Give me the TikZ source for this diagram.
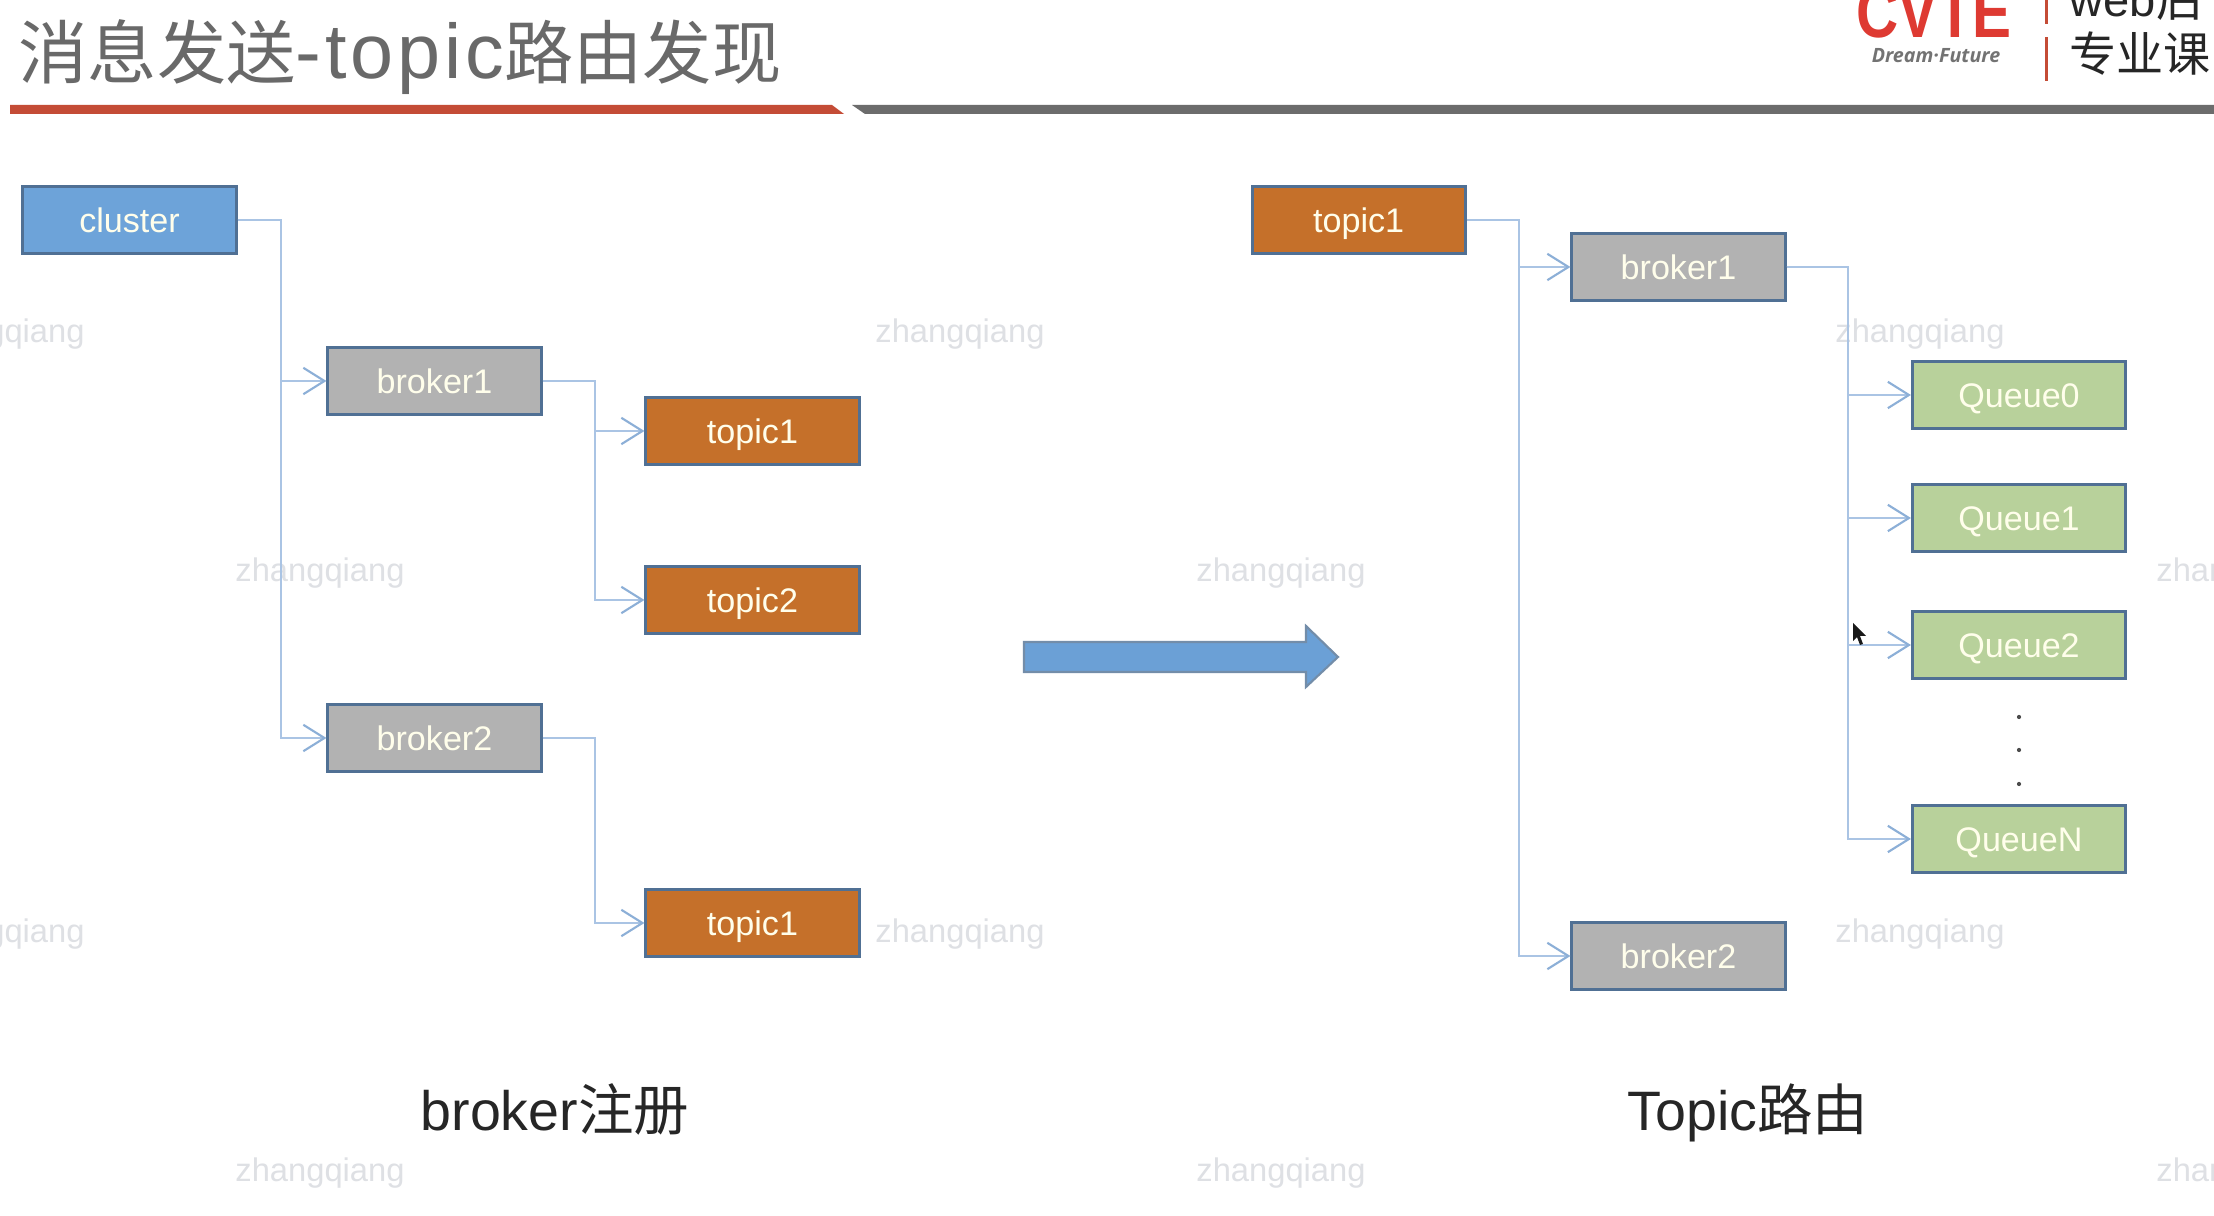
\documentclass[tikz,border=0pt]{standalone}
\usepackage{fontspec}
\setmainfont{Liberation Sans}
\newfontfamily\cjk{Noto Sans CJK SC}
\newfontfamily\logofont{Open Sans}
\newfontfamily\titlefont[LetterSpace=5]{Liberation Sans}
\usetikzlibrary{arrows.meta}
\definecolor{clusterblue}{RGB}{109, 163, 217}
\definecolor{arrowblue}{RGB}{107, 160, 214}
\definecolor{edgeblue}{RGB}{80, 112, 148}
\definecolor{topicorange}{RGB}{197, 112, 42}
\definecolor{brokergray}{RGB}{178, 178, 178}
\definecolor{queuegreen}{RGB}{184, 209, 155}
\definecolor{linkblue}{RGB}{170, 196, 228}
\definecolor{tipblue}{RGB}{140, 175, 215}
\definecolor{titlegray}{RGB}{105, 105, 105}
\definecolor{barred}{RGB}{196, 76, 54}
\definecolor{bargray}{RGB}{108, 108, 108}
\definecolor{logored}{RGB}{222, 58, 50}
\definecolor{wmgray}{RGB}{222, 224, 228}
\tikzset{
    box/.style={draw=edgeblue, line width=0.85pt, minimum width=2.13cm, minimum height=0.67cm,
        inner sep=0pt, text height=7pt, text depth=0pt, text=white!92!yellow, font=\fontsize{9.7}{11}\selectfont},
    clusterbox/.style={box, fill=clusterblue},
    topicbox/.style={box, fill=topicorange},
    brokerbox/.style={box, fill=brokergray},
    queuebox/.style={box, fill=queuegreen},
    link/.style={draw=linkblue, line width=0.6pt,
        -{Straight Barb[length=6pt, width=7.5pt, color=tipblue, line width=0.6pt]}},
    wmtext/.style={text=wmgray, inner sep=0pt, font=\fontsize{9.3}{11}\selectfont},
    caption/.style={anchor=base, inner sep=0pt, text=black!85, font=\fontsize{15.8}{18}\selectfont},
}

\begin{document}
\begin{tikzpicture}[x=0.01cm, y=-0.01cm]
            \useasboundingbox (0,0) rectangle (2214,1216);
            \clip (0,0) rectangle (2214,1216);
            \fill[white] (0,0) rectangle (2214,1216);

            \foreach \wmx/\wmy in {0/334, 960/334, 1920/334, 320/573, 1281/573, 2241/573,
                                   0/934, 960/934, 1920/934, 320/1173, 1281/1173, 2241/1173}
                \node[wmtext] (wm\wmx\wmy) at (\wmx,\wmy) {zhangqiang};

            \node[anchor=base west, inner sep=0pt, text=titlegray, font=\titlefont\fontsize{22}{26}\selectfont] (title) at (18,79)
                {{\cjk\fontsize{19.7}{24}\selectfont 消息发送}-topic{\cjk\fontsize{19.7}{24}\selectfont 路由发现}};
            \fill[barred]  (10,105) -- (832,105) -- (844,114) -- (10,114) -- cycle;
            \fill[bargray] (852,105) -- (2214,105) -- (2214,114) -- (865,114) -- cycle;

            \node[anchor=base, inner sep=0pt, text=logored, font=\bfseries\fontsize{20.5}{22}\selectfont] (logo) at (1934,38) {\scalebox{0.81}[1]{CVTE}};
            \node[anchor=base, inner sep=0pt, text=black!55, font=\logofont\bfseries\itshape\fontsize{5.6}{7}\selectfont] (dream) at (1936,63) {Dream·Future};
            \fill[barred] (2045,0) rectangle (2048,24);
            \fill[barred] (2045,37) rectangle (2048,81);
            \node[anchor=base west, inner sep=0pt, text=black!85, font=\fontsize{13.4}{16}\selectfont] (webtext) at (2069,17) {web{\cjk 后}};
            \node[anchor=base west, inner sep=0pt, text=black!85, font=\fontsize{13.4}{16}\selectfont] (course) at (2069,72) {\cjk 专业课};

            \node[clusterbox] (cluster) at (129.5,220) {cluster};
            \node[brokerbox] (brokerA) at (434.5,381) {broker1};
            \node[topicbox] (topicA) at (752.5,431) {topic1};
            \node[topicbox] (topicB) at (752.5,600) {topic2};
            \node[brokerbox] (brokerB) at (434.5,738) {broker2};
            \node[topicbox] (topicC) at (752.5,923) {topic1};

            \node[topicbox] (topicR) at (1358.7,220) {topic1};
            \node[brokerbox] (brokerC) at (1678.5,267) {broker1};
            \node[brokerbox] (brokerD) at (1678.5,956) {broker2};
            \node[queuebox] (queueA) at (2019,395) {Queue0};
            \node[queuebox] (queueB) at (2019,518) {Queue1};
            \node[queuebox] (queueC) at (2019,645) {Queue2};
            \node[queuebox] (queueN) at (2019,839) {QueueN};

            \foreach \from/\to/\off in {cluster/brokerA/43, cluster/brokerB/43,
                                        brokerA/topicA/52, brokerA/topicB/52, brokerB/topicC/52,
                                        topicR/brokerC/52, topicR/brokerD/52,
                                        brokerC/queueA/61, brokerC/queueB/61, brokerC/queueC/61, brokerC/queueN/61}
                \draw[link] (\from.east) -- ++(\off,0) |- (\to.west);

            \foreach \doty in {717, 750, 784}
                \fill[black!70] (2019,\doty) circle (0.6pt);

            \filldraw[fill=arrowblue, draw=edgeblue!80, line width=0.6pt]
                (1024,642) -- (1306,642) -- (1306,626) -- (1338,657) -- (1306,687) -- (1306,672) -- (1024,672) -- cycle;

            \fill[black!90] (1853,623) -- (1853,641) -- (1857,637) -- (1860,645) -- (1863,644) -- (1860,636) -- (1866,636) -- cycle;

            \node[caption] (capLeft) at (555,1130) {broker{\cjk 注册}};
            \node[caption] (capRight) at (1748,1130) {Topic{\cjk 路由}};
        \end{tikzpicture}
\end{document}
